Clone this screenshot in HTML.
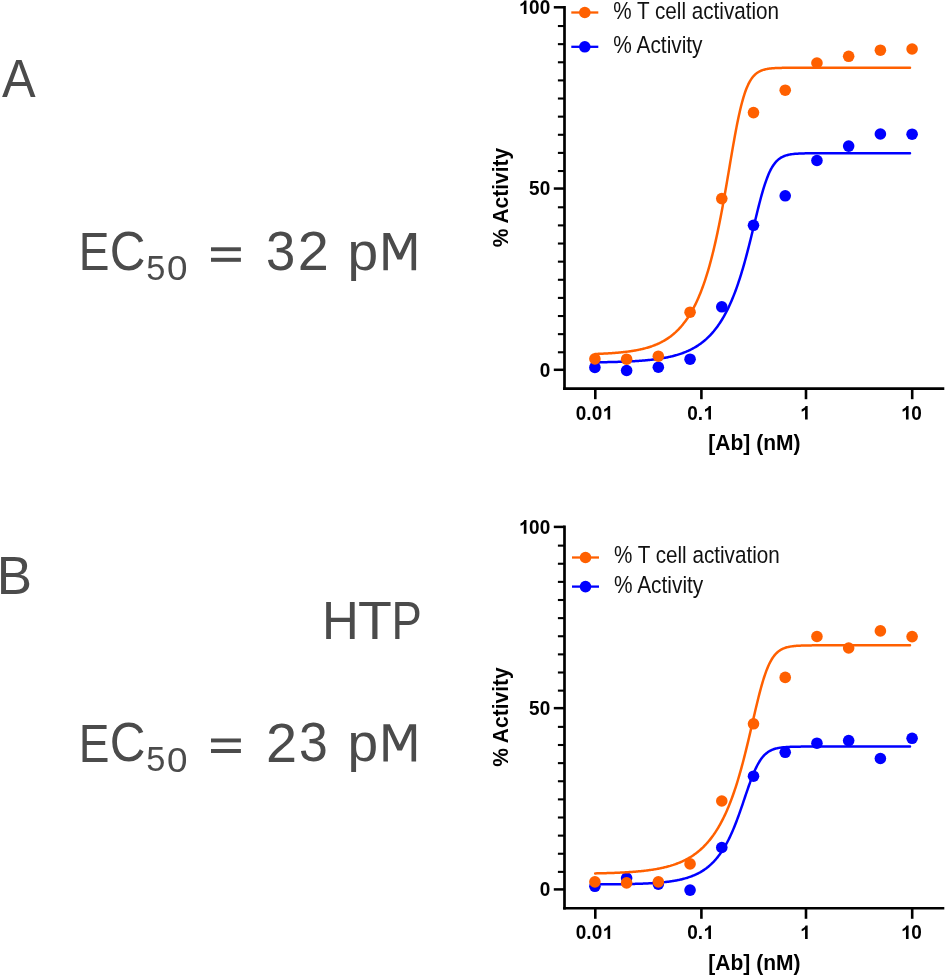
<!DOCTYPE html>
<html><head><meta charset="utf-8"><style>
html,body{margin:0;padding:0;background:#fff;}
body{width:945px;height:976px;overflow:hidden;}
svg{display:block;will-change:transform;}
text{font-family:"Liberation Sans",sans-serif;}
.tk{font-size:19px;font-weight:bold;fill:#000;}
.tt{font-size:21px;font-weight:bold;fill:#000;}
.lg{font-size:21px;fill:#111;}
.lt{fill:#4b4b4b;}
</style></head><body>
<svg width="945" height="976" viewBox="0 0 945 976">
<rect width="945" height="976" fill="#fff"/>
<text transform="translate(2.07,97.00) scale(0.9695,1.0406)" font-size="52" class="lt">A</text>
<text transform="translate(-3.37,593.80) scale(1.0184,1.0378)" font-size="52" class="lt">B</text>
<text transform="translate(322.10,639.30) scale(0.9796,1.0406)" font-size="52" class="lt">H</text>
<text transform="translate(358.05,639.30) scale(1.0654,1.0406)" font-size="52" class="lt">T</text>
<text transform="translate(391.55,639.30) scale(0.8740,1.0406)" font-size="52" class="lt">P</text>
<text transform="translate(78.80,270.30) scale(0.8862,1.0434)" font-size="52" class="lt">E</text>
<text transform="translate(109.83,270.14) scale(0.9517,1.0709)" font-size="52" class="lt">C</text>
<text transform="translate(146.23,280.24) scale(0.6599,0.6838)" font-size="52" class="lt">5</text>
<text transform="translate(166.93,280.45) scale(0.7088,0.6795)" font-size="52" class="lt">0</text>
<rect x="211" y="247.30" width="29.9" height="3.9" fill="#4b4b4b"/><rect x="211" y="257.80" width="29.9" height="4.0" fill="#4b4b4b"/>
<text transform="translate(347.52,269.81) scale(1.0598,1.0274)" font-size="52" class="lt">p</text>
<path transform="translate(0,0)" fill="#4b4b4b" d="M383.4,270.3 L383.4,233.0 L389.9,233.0 L399.7,253.6 L409.4,233.0 L416.1,233.0 L416.1,270.3 L411.5,270.3 L411.5,238.6 L401.9,259.4 L397.4,259.4 L387.9,238.6 L387.9,270.3 Z"/>
<text transform="translate(78.80,761.50) scale(0.8862,1.0434)" font-size="52" class="lt">E</text>
<text transform="translate(109.83,761.34) scale(0.9517,1.0709)" font-size="52" class="lt">C</text>
<text transform="translate(146.23,771.44) scale(0.6599,0.6838)" font-size="52" class="lt">5</text>
<text transform="translate(166.93,771.65) scale(0.7088,0.6795)" font-size="52" class="lt">0</text>
<rect x="211" y="738.50" width="29.9" height="3.9" fill="#4b4b4b"/><rect x="211" y="749.00" width="29.9" height="4.0" fill="#4b4b4b"/>
<text transform="translate(347.52,761.01) scale(1.0598,1.0274)" font-size="52" class="lt">p</text>
<path transform="translate(0,491.2)" fill="#4b4b4b" d="M383.4,270.3 L383.4,233.0 L389.9,233.0 L399.7,253.6 L409.4,233.0 L416.1,233.0 L416.1,270.3 L411.5,270.3 L411.5,238.6 L401.9,259.4 L397.4,259.4 L387.9,238.6 L387.9,270.3 Z"/>
<text transform="translate(265.93,270.04) scale(1.0121,1.0682)" font-size="52" class="lt">3</text>
<text transform="translate(297.71,270.20) scale(1.0735,1.0725)" font-size="52" class="lt">2</text>
<text transform="translate(265.91,761.60) scale(1.0735,1.0615)" font-size="52" class="lt">2</text>
<text transform="translate(298.96,761.35) scale(0.9960,1.0546)" font-size="52" class="lt">3</text>
<path d="M564.5,6 V389.90000000000003" stroke="#000" stroke-width="2.7" fill="none"/>
<path d="M563.15,388.6 H944.3" stroke="#000" stroke-width="2.6" fill="none"/>
<path d="M553.8,369.80 H564.5" stroke="#000" stroke-width="2.5"/>
<path d="M557.9,352.28 H564.5" stroke="#000" stroke-width="2.1"/>
<path d="M557.9,334.15 H564.5" stroke="#000" stroke-width="2.1"/>
<path d="M557.9,316.03 H564.5" stroke="#000" stroke-width="2.1"/>
<path d="M557.9,297.90 H564.5" stroke="#000" stroke-width="2.1"/>
<path d="M557.9,279.78 H564.5" stroke="#000" stroke-width="2.1"/>
<path d="M557.9,261.65 H564.5" stroke="#000" stroke-width="2.1"/>
<path d="M557.9,243.53 H564.5" stroke="#000" stroke-width="2.1"/>
<path d="M557.9,225.40 H564.5" stroke="#000" stroke-width="2.1"/>
<path d="M557.9,207.28 H564.5" stroke="#000" stroke-width="2.1"/>
<path d="M553.8,188.55 H564.5" stroke="#000" stroke-width="2.5"/>
<path d="M557.9,171.03 H564.5" stroke="#000" stroke-width="2.1"/>
<path d="M557.9,152.90 H564.5" stroke="#000" stroke-width="2.1"/>
<path d="M557.9,134.78 H564.5" stroke="#000" stroke-width="2.1"/>
<path d="M557.9,116.65 H564.5" stroke="#000" stroke-width="2.1"/>
<path d="M557.9,98.53 H564.5" stroke="#000" stroke-width="2.1"/>
<path d="M557.9,80.40 H564.5" stroke="#000" stroke-width="2.1"/>
<path d="M557.9,62.28 H564.5" stroke="#000" stroke-width="2.1"/>
<path d="M557.9,44.15 H564.5" stroke="#000" stroke-width="2.1"/>
<path d="M557.9,26.03 H564.5" stroke="#000" stroke-width="2.1"/>
<path d="M553.8,7.30 H564.5" stroke="#000" stroke-width="2.5"/>
<text transform="translate(539.63,376.55) scale(1,1.03)" class="tk">0</text>
<text transform="translate(529.07,195.30) scale(1,1.03)" class="tk">50</text>
<path transform="translate(518.50,14.05) scale(0.009277,-0.009221)" d="M856 0H575V1059Q421 915 212 846V1101Q322 1137 451 1237Q580 1338 628 1472H856Z" fill="#000"/>
<text transform="translate(529.07,14.05) scale(1,1.03)" class="tk">00</text>
<path d="M595.3,388.6 V399.2" stroke="#000" stroke-width="2.6"/>
<text transform="translate(575.81,419.50) scale(1,1.03)" class="tk">0.0</text>
<path transform="translate(602.22,419.50) scale(0.009277,-0.009221)" d="M856 0H575V1059Q421 915 212 846V1101Q322 1137 451 1237Q580 1338 628 1472H856Z" fill="#000"/>
<path d="M701.4,388.6 V399.2" stroke="#000" stroke-width="2.6"/>
<text transform="translate(687.19,419.50) scale(1,1.03)" class="tk">0.</text>
<path transform="translate(703.04,419.50) scale(0.009277,-0.009221)" d="M856 0H575V1059Q421 915 212 846V1101Q322 1137 451 1237Q580 1338 628 1472H856Z" fill="#000"/>
<path d="M806,388.6 V399.2" stroke="#000" stroke-width="2.6"/>
<path transform="translate(799.72,419.50) scale(0.009277,-0.009221)" d="M856 0H575V1059Q421 915 212 846V1101Q322 1137 451 1237Q580 1338 628 1472H856Z" fill="#000"/>
<path d="M912.2,388.6 V399.2" stroke="#000" stroke-width="2.6"/>
<path transform="translate(900.63,419.50) scale(0.009277,-0.009221)" d="M856 0H575V1059Q421 915 212 846V1101Q322 1137 451 1237Q580 1338 628 1472H856Z" fill="#000"/>
<text transform="translate(911.20,419.50) scale(1,1.03)" class="tk">0</text>
<text transform="translate(754.4,450.30) scale(1,1.08)" text-anchor="middle" class="tt">[Ab] (nM)</text>
<text transform="translate(507.9,197.50) rotate(-90) scale(1,1.08)" text-anchor="middle" class="tt">% Activity</text>
<path d="M571.30,46.8 H598.30" stroke="#0000FF" stroke-width="2.3"/>
<circle cx="584.80" cy="46.8" r="5.8" fill="#0000FF"/>
<path d="M571.30,12.5 H598.30" stroke="#FF6000" stroke-width="2.3"/>
<circle cx="584.80" cy="12.5" r="5.8" fill="#FF6000"/>
<text transform="translate(613.30,18.6) scale(0.984,1.1)" class="lg">% T cell activation</text>
<text transform="translate(613.30,52.9) scale(0.994,1.1)" class="lg">% Activity</text>
<path d="M595.20,362.33 L595.99,362.32 L596.78,362.31 L597.57,362.30 L598.36,362.29 L599.14,362.28 L599.93,362.26 L600.72,362.25 L601.51,362.24 L602.30,362.23 L603.09,362.21 L603.88,362.20 L604.67,362.18 L605.46,362.17 L606.25,362.15 L607.03,362.14 L607.82,362.12 L608.61,362.10 L609.40,362.09 L610.19,362.07 L610.98,362.05 L611.77,362.03 L612.56,362.01 L613.35,361.99 L614.14,361.97 L614.92,361.95 L615.71,361.93 L616.50,361.90 L617.29,361.88 L618.08,361.86 L618.87,361.83 L619.66,361.81 L620.45,361.78 L621.24,361.75 L622.03,361.72 L622.81,361.70 L623.60,361.67 L624.39,361.64 L625.18,361.60 L625.97,361.57 L626.76,361.54 L627.55,361.50 L628.34,361.47 L629.13,361.43 L629.91,361.39 L630.70,361.35 L631.49,361.31 L632.28,361.27 L633.07,361.23 L633.86,361.18 L634.65,361.14 L635.44,361.09 L636.23,361.04 L637.02,360.99 L637.80,360.94 L638.59,360.89 L639.38,360.83 L640.17,360.78 L640.96,360.72 L641.75,360.66 L642.54,360.60 L643.33,360.54 L644.12,360.47 L644.91,360.40 L645.69,360.33 L646.48,360.26 L647.27,360.19 L648.06,360.11 L648.85,360.03 L649.64,359.95 L650.43,359.87 L651.22,359.78 L652.01,359.70 L652.79,359.61 L653.58,359.51 L654.37,359.41 L655.16,359.32 L655.95,359.21 L656.74,359.11 L657.53,359.00 L658.32,358.89 L659.11,358.77 L659.90,358.65 L660.68,358.53 L661.47,358.40 L662.26,358.27 L663.05,358.14 L663.84,358.00 L664.63,357.85 L665.42,357.71 L666.21,357.55 L667.00,357.40 L667.79,357.24 L668.57,357.07 L669.36,356.90 L670.15,356.72 L670.94,356.54 L671.73,356.35 L672.52,356.16 L673.31,355.96 L674.10,355.75 L674.89,355.54 L675.68,355.32 L676.46,355.10 L677.25,354.87 L678.04,354.63 L678.83,354.38 L679.62,354.13 L680.41,353.87 L681.20,353.60 L681.99,353.32 L682.78,353.04 L683.56,352.74 L684.35,352.44 L685.14,352.12 L685.93,351.80 L686.72,351.47 L687.51,351.13 L688.30,350.77 L689.09,350.41 L689.88,350.03 L690.67,349.65 L691.45,349.25 L692.24,348.84 L693.03,348.41 L693.82,347.98 L694.61,347.53 L695.40,347.07 L696.19,346.59 L696.98,346.10 L697.77,345.59 L698.56,345.07 L699.34,344.53 L700.13,343.97 L700.92,343.40 L701.71,342.81 L702.50,342.20 L703.29,341.58 L704.08,340.93 L704.87,340.27 L705.66,339.58 L706.45,338.88 L707.23,338.15 L708.02,337.40 L708.81,336.63 L709.60,335.83 L710.39,335.01 L711.18,334.16 L711.97,333.29 L712.76,332.39 L713.55,331.47 L714.33,330.51 L715.12,329.53 L715.91,328.52 L716.70,327.47 L717.49,326.40 L718.28,325.29 L719.07,324.15 L719.86,322.97 L720.65,321.76 L721.44,320.51 L722.22,319.23 L723.01,317.90 L723.80,316.54 L724.59,315.13 L725.38,313.68 L726.17,312.19 L726.96,310.66 L727.75,309.08 L728.54,307.45 L729.33,305.77 L730.11,304.04 L730.90,302.27 L731.69,300.44 L732.48,298.56 L733.27,296.62 L734.06,294.63 L734.85,292.59 L735.64,290.48 L736.43,288.32 L737.22,286.10 L738.00,283.82 L738.79,281.47 L739.58,279.07 L740.37,276.60 L741.16,274.07 L741.95,271.48 L742.74,268.83 L743.53,266.12 L744.32,263.34 L745.10,260.51 L745.89,257.62 L746.68,254.67 L747.47,251.67 L748.26,248.62 L749.05,245.52 L749.84,242.38 L750.63,239.21 L751.42,236.00 L752.21,232.76 L752.99,229.51 L753.78,226.24 L754.57,222.97 L755.36,219.71 L756.15,216.45 L756.94,213.23 L757.73,210.03 L758.52,206.88 L759.31,203.79 L760.10,200.75 L760.88,197.79 L761.67,194.92 L762.46,192.13 L763.25,189.45 L764.04,186.86 L764.83,184.39 L765.62,182.04 L766.41,179.80 L767.20,177.69 L767.98,175.69 L768.77,173.82 L769.56,172.07 L770.35,170.43 L771.14,168.91 L771.93,167.51 L772.72,166.20 L773.51,165.00 L774.30,163.90 L775.09,162.89 L775.87,161.96 L776.66,161.12 L777.45,160.35 L778.24,159.65 L779.03,159.01 L779.82,158.43 L780.61,157.91 L781.40,157.44 L782.19,157.01 L782.98,156.62 L783.76,156.27 L784.55,155.96 L785.34,155.68 L786.13,155.42 L786.92,155.19 L787.71,154.99 L788.50,154.80 L789.29,154.64 L790.08,154.49 L790.87,154.35 L791.65,154.23 L792.44,154.13 L793.23,154.03 L794.02,153.94 L794.81,153.87 L795.60,153.80 L796.39,153.73 L797.18,153.68 L797.97,153.63 L798.75,153.58 L799.54,153.54 L800.33,153.51 L801.12,153.48 L801.91,153.45 L802.70,153.42 L803.49,153.40 L804.28,153.38 L805.07,153.36 L805.86,153.34 L806.64,153.33 L807.43,153.31 L808.22,153.30 L809.01,153.29 L809.80,153.28 L810.59,153.27 L811.38,153.27 L812.17,153.26 L812.96,153.25 L813.75,153.25 L814.53,153.24 L815.32,153.24 L816.11,153.24 L816.90,153.23 L817.69,153.23 L818.48,153.23 L819.27,153.22 L820.06,153.22 L820.85,153.22 L821.64,153.22 L822.42,153.22 L823.21,153.21 L824.00,153.21 L824.79,153.21 L825.58,153.21 L826.37,153.21 L827.16,153.21 L827.95,153.21 L828.74,153.21 L829.52,153.21 L830.31,153.21 L831.10,153.21 L831.89,153.21 L832.68,153.21 L833.47,153.21 L834.26,153.21 L835.05,153.21 L835.84,153.20 L836.63,153.20 L837.41,153.20 L838.20,153.20 L838.99,153.20 L839.78,153.20 L840.57,153.20 L841.36,153.20 L842.15,153.20 L842.94,153.20 L843.73,153.20 L844.52,153.20 L845.30,153.20 L846.09,153.20 L846.88,153.20 L847.67,153.20 L848.46,153.20 L849.25,153.20 L850.04,153.20 L850.83,153.20 L851.62,153.20 L852.41,153.20 L853.19,153.20 L853.98,153.20 L854.77,153.20 L855.56,153.20 L856.35,153.20 L857.14,153.20 L857.93,153.20 L858.72,153.20 L859.51,153.20 L860.29,153.20 L861.08,153.20 L861.87,153.20 L862.66,153.20 L863.45,153.20 L864.24,153.20 L865.03,153.20 L865.82,153.20 L866.61,153.20 L867.40,153.20 L868.18,153.20 L868.97,153.20 L869.76,153.20 L870.55,153.20 L871.34,153.20 L872.13,153.20 L872.92,153.20 L873.71,153.20 L874.50,153.20 L875.29,153.20 L876.07,153.20 L876.86,153.20 L877.65,153.20 L878.44,153.20 L879.23,153.20 L880.02,153.20 L880.81,153.20 L881.60,153.20 L882.39,153.20 L883.17,153.20 L883.96,153.20 L884.75,153.20 L885.54,153.20 L886.33,153.20 L887.12,153.20 L887.91,153.20 L888.70,153.20 L889.49,153.20 L890.28,153.20 L891.06,153.20 L891.85,153.20 L892.64,153.20 L893.43,153.20 L894.22,153.20 L895.01,153.20 L895.80,153.20 L896.59,153.20 L897.38,153.20 L898.17,153.20 L898.95,153.20 L899.74,153.20 L900.53,153.20 L901.32,153.20 L902.11,153.20 L902.90,153.20 L903.69,153.20 L904.48,153.20 L905.27,153.20 L906.06,153.20 L906.84,153.20 L907.63,153.20 L908.42,153.20 L909.21,153.20 L910.00,153.20" stroke="#0000FF" stroke-width="2.5" fill="none" stroke-linejoin="round" stroke-linecap="round"/>
<circle cx="594.90" cy="367.4" r="5.8" fill="#0000FF"/>
<circle cx="626.62" cy="370.5" r="5.8" fill="#0000FF"/>
<circle cx="658.34" cy="367.2" r="5.8" fill="#0000FF"/>
<circle cx="690.06" cy="359.2" r="5.8" fill="#0000FF"/>
<circle cx="721.78" cy="306.8" r="5.8" fill="#0000FF"/>
<circle cx="753.50" cy="225.3" r="5.8" fill="#0000FF"/>
<circle cx="785.22" cy="195.8" r="5.8" fill="#0000FF"/>
<circle cx="816.94" cy="160.5" r="5.8" fill="#0000FF"/>
<circle cx="848.66" cy="146.1" r="5.8" fill="#0000FF"/>
<circle cx="880.38" cy="134.0" r="5.8" fill="#0000FF"/>
<circle cx="912.10" cy="134.2" r="5.8" fill="#0000FF"/>
<path d="M595.20,353.97 L595.99,353.94 L596.78,353.91 L597.57,353.88 L598.36,353.85 L599.14,353.82 L599.93,353.78 L600.72,353.75 L601.51,353.71 L602.30,353.68 L603.09,353.64 L603.88,353.60 L604.67,353.56 L605.46,353.52 L606.25,353.48 L607.03,353.43 L607.82,353.39 L608.61,353.34 L609.40,353.29 L610.19,353.24 L610.98,353.19 L611.77,353.14 L612.56,353.08 L613.35,353.03 L614.14,352.97 L614.92,352.91 L615.71,352.85 L616.50,352.78 L617.29,352.71 L618.08,352.64 L618.87,352.57 L619.66,352.50 L620.45,352.42 L621.24,352.35 L622.03,352.27 L622.81,352.18 L623.60,352.10 L624.39,352.01 L625.18,351.92 L625.97,351.82 L626.76,351.72 L627.55,351.62 L628.34,351.52 L629.13,351.41 L629.91,351.30 L630.70,351.18 L631.49,351.06 L632.28,350.94 L633.07,350.81 L633.86,350.68 L634.65,350.55 L635.44,350.41 L636.23,350.27 L637.02,350.12 L637.80,349.96 L638.59,349.81 L639.38,349.64 L640.17,349.47 L640.96,349.30 L641.75,349.12 L642.54,348.93 L643.33,348.74 L644.12,348.54 L644.91,348.34 L645.69,348.13 L646.48,347.91 L647.27,347.68 L648.06,347.45 L648.85,347.21 L649.64,346.96 L650.43,346.70 L651.22,346.44 L652.01,346.17 L652.79,345.88 L653.58,345.59 L654.37,345.29 L655.16,344.98 L655.95,344.66 L656.74,344.33 L657.53,343.99 L658.32,343.63 L659.11,343.27 L659.90,342.89 L660.68,342.50 L661.47,342.10 L662.26,341.69 L663.05,341.26 L663.84,340.82 L664.63,340.36 L665.42,339.89 L666.21,339.40 L667.00,338.90 L667.79,338.38 L668.57,337.85 L669.36,337.29 L670.15,336.72 L670.94,336.13 L671.73,335.52 L672.52,334.89 L673.31,334.24 L674.10,333.57 L674.89,332.88 L675.68,332.17 L676.46,331.43 L677.25,330.67 L678.04,329.88 L678.83,329.07 L679.62,328.23 L680.41,327.36 L681.20,326.46 L681.99,325.54 L682.78,324.59 L683.56,323.60 L684.35,322.59 L685.14,321.54 L685.93,320.45 L686.72,319.33 L687.51,318.18 L688.30,316.98 L689.09,315.75 L689.88,314.48 L690.67,313.17 L691.45,311.81 L692.24,310.41 L693.03,308.96 L693.82,307.47 L694.61,305.93 L695.40,304.34 L696.19,302.70 L696.98,301.01 L697.77,299.26 L698.56,297.46 L699.34,295.59 L700.13,293.67 L700.92,291.69 L701.71,289.64 L702.50,287.53 L703.29,285.35 L704.08,283.10 L704.87,280.79 L705.66,278.39 L706.45,275.93 L707.23,273.39 L708.02,270.77 L708.81,268.07 L709.60,265.29 L710.39,262.42 L711.18,259.47 L711.97,256.43 L712.76,253.30 L713.55,250.09 L714.33,246.78 L715.12,243.38 L715.91,239.89 L716.70,236.30 L717.49,232.62 L718.28,228.85 L719.07,224.99 L719.86,221.03 L720.65,216.99 L721.44,212.86 L722.22,208.65 L723.01,204.36 L723.80,199.99 L724.59,195.56 L725.38,191.06 L726.17,186.51 L726.96,181.91 L727.75,177.28 L728.54,172.63 L729.33,167.96 L730.11,163.28 L730.90,158.63 L731.69,154.00 L732.48,149.41 L733.27,144.88 L734.06,140.42 L734.85,136.05 L735.64,131.78 L736.43,127.62 L737.22,123.60 L738.00,119.71 L738.79,115.98 L739.58,112.41 L740.37,109.00 L741.16,105.77 L741.95,102.71 L742.74,99.83 L743.53,97.12 L744.32,94.59 L745.10,92.23 L745.89,90.04 L746.68,88.02 L747.47,86.15 L748.26,84.42 L749.05,82.84 L749.84,81.39 L750.63,80.07 L751.42,78.86 L752.21,77.76 L752.99,76.76 L753.78,75.85 L754.57,75.03 L755.36,74.29 L756.15,73.62 L756.94,73.01 L757.73,72.47 L758.52,71.98 L759.31,71.53 L760.10,71.14 L760.88,70.78 L761.67,70.46 L762.46,70.17 L763.25,69.91 L764.04,69.68 L764.83,69.47 L765.62,69.29 L766.41,69.12 L767.20,68.97 L767.98,68.84 L768.77,68.72 L769.56,68.61 L770.35,68.52 L771.14,68.43 L771.93,68.35 L772.72,68.29 L773.51,68.22 L774.30,68.17 L775.09,68.12 L775.87,68.08 L776.66,68.04 L777.45,68.00 L778.24,67.97 L779.03,67.94 L779.82,67.92 L780.61,67.90 L781.40,67.88 L782.19,67.86 L782.98,67.84 L783.76,67.83 L784.55,67.82 L785.34,67.81 L786.13,67.80 L786.92,67.79 L787.71,67.78 L788.50,67.77 L789.29,67.76 L790.08,67.76 L790.87,67.75 L791.65,67.75 L792.44,67.75 L793.23,67.74 L794.02,67.74 L794.81,67.74 L795.60,67.73 L796.39,67.73 L797.18,67.73 L797.97,67.73 L798.75,67.72 L799.54,67.72 L800.33,67.72 L801.12,67.72 L801.91,67.72 L802.70,67.72 L803.49,67.72 L804.28,67.72 L805.07,67.72 L805.86,67.72 L806.64,67.72 L807.43,67.71 L808.22,67.71 L809.01,67.71 L809.80,67.71 L810.59,67.71 L811.38,67.71 L812.17,67.71 L812.96,67.71 L813.75,67.71 L814.53,67.71 L815.32,67.71 L816.11,67.71 L816.90,67.71 L817.69,67.71 L818.48,67.71 L819.27,67.71 L820.06,67.71 L820.85,67.71 L821.64,67.71 L822.42,67.71 L823.21,67.71 L824.00,67.71 L824.79,67.71 L825.58,67.71 L826.37,67.71 L827.16,67.71 L827.95,67.71 L828.74,67.71 L829.52,67.71 L830.31,67.71 L831.10,67.71 L831.89,67.71 L832.68,67.71 L833.47,67.71 L834.26,67.71 L835.05,67.71 L835.84,67.71 L836.63,67.71 L837.41,67.71 L838.20,67.71 L838.99,67.71 L839.78,67.71 L840.57,67.71 L841.36,67.71 L842.15,67.71 L842.94,67.71 L843.73,67.71 L844.52,67.71 L845.30,67.71 L846.09,67.71 L846.88,67.71 L847.67,67.71 L848.46,67.71 L849.25,67.71 L850.04,67.71 L850.83,67.71 L851.62,67.71 L852.41,67.71 L853.19,67.71 L853.98,67.71 L854.77,67.71 L855.56,67.71 L856.35,67.71 L857.14,67.71 L857.93,67.71 L858.72,67.71 L859.51,67.71 L860.29,67.71 L861.08,67.71 L861.87,67.71 L862.66,67.71 L863.45,67.71 L864.24,67.71 L865.03,67.71 L865.82,67.71 L866.61,67.71 L867.40,67.71 L868.18,67.71 L868.97,67.71 L869.76,67.71 L870.55,67.71 L871.34,67.71 L872.13,67.71 L872.92,67.71 L873.71,67.71 L874.50,67.71 L875.29,67.71 L876.07,67.71 L876.86,67.71 L877.65,67.71 L878.44,67.71 L879.23,67.71 L880.02,67.71 L880.81,67.71 L881.60,67.71 L882.39,67.71 L883.17,67.71 L883.96,67.71 L884.75,67.71 L885.54,67.71 L886.33,67.71 L887.12,67.71 L887.91,67.71 L888.70,67.71 L889.49,67.71 L890.28,67.71 L891.06,67.71 L891.85,67.71 L892.64,67.71 L893.43,67.71 L894.22,67.71 L895.01,67.71 L895.80,67.71 L896.59,67.71 L897.38,67.71 L898.17,67.71 L898.95,67.71 L899.74,67.71 L900.53,67.71 L901.32,67.71 L902.11,67.71 L902.90,67.71 L903.69,67.71 L904.48,67.71 L905.27,67.71 L906.06,67.71 L906.84,67.71 L907.63,67.71 L908.42,67.71 L909.21,67.71 L910.00,67.71" stroke="#FF6000" stroke-width="2.5" fill="none" stroke-linejoin="round" stroke-linecap="round"/>
<circle cx="594.90" cy="358.9" r="5.8" fill="#FF6000"/>
<circle cx="626.62" cy="359.2" r="5.8" fill="#FF6000"/>
<circle cx="658.34" cy="356.2" r="5.8" fill="#FF6000"/>
<circle cx="690.06" cy="312.2" r="5.8" fill="#FF6000"/>
<circle cx="721.78" cy="198.6" r="5.8" fill="#FF6000"/>
<circle cx="753.50" cy="112.6" r="5.8" fill="#FF6000"/>
<circle cx="785.22" cy="90.2" r="5.8" fill="#FF6000"/>
<circle cx="816.94" cy="63.0" r="5.8" fill="#FF6000"/>
<circle cx="848.66" cy="56.3" r="5.8" fill="#FF6000"/>
<circle cx="880.38" cy="50.2" r="5.8" fill="#FF6000"/>
<circle cx="912.10" cy="49.0" r="5.8" fill="#FF6000"/>
<path d="M564.5,525.6 V909.5" stroke="#000" stroke-width="2.7" fill="none"/>
<path d="M563.15,908.2 H944.3" stroke="#000" stroke-width="2.6" fill="none"/>
<path d="M553.8,889.40 H564.5" stroke="#000" stroke-width="2.5"/>
<path d="M557.9,871.88 H564.5" stroke="#000" stroke-width="2.1"/>
<path d="M557.9,853.75 H564.5" stroke="#000" stroke-width="2.1"/>
<path d="M557.9,835.63 H564.5" stroke="#000" stroke-width="2.1"/>
<path d="M557.9,817.50 H564.5" stroke="#000" stroke-width="2.1"/>
<path d="M557.9,799.38 H564.5" stroke="#000" stroke-width="2.1"/>
<path d="M557.9,781.25 H564.5" stroke="#000" stroke-width="2.1"/>
<path d="M557.9,763.13 H564.5" stroke="#000" stroke-width="2.1"/>
<path d="M557.9,745.00 H564.5" stroke="#000" stroke-width="2.1"/>
<path d="M557.9,726.88 H564.5" stroke="#000" stroke-width="2.1"/>
<path d="M553.8,708.15 H564.5" stroke="#000" stroke-width="2.5"/>
<path d="M557.9,690.63 H564.5" stroke="#000" stroke-width="2.1"/>
<path d="M557.9,672.50 H564.5" stroke="#000" stroke-width="2.1"/>
<path d="M557.9,654.38 H564.5" stroke="#000" stroke-width="2.1"/>
<path d="M557.9,636.25 H564.5" stroke="#000" stroke-width="2.1"/>
<path d="M557.9,618.13 H564.5" stroke="#000" stroke-width="2.1"/>
<path d="M557.9,600.00 H564.5" stroke="#000" stroke-width="2.1"/>
<path d="M557.9,581.88 H564.5" stroke="#000" stroke-width="2.1"/>
<path d="M557.9,563.75 H564.5" stroke="#000" stroke-width="2.1"/>
<path d="M557.9,545.63 H564.5" stroke="#000" stroke-width="2.1"/>
<path d="M553.8,526.90 H564.5" stroke="#000" stroke-width="2.5"/>
<text transform="translate(539.63,896.15) scale(1,1.03)" class="tk">0</text>
<text transform="translate(529.07,714.90) scale(1,1.03)" class="tk">50</text>
<path transform="translate(518.50,533.65) scale(0.009277,-0.009221)" d="M856 0H575V1059Q421 915 212 846V1101Q322 1137 451 1237Q580 1338 628 1472H856Z" fill="#000"/>
<text transform="translate(529.07,533.65) scale(1,1.03)" class="tk">00</text>
<path d="M595.3,908.2 V918.8" stroke="#000" stroke-width="2.6"/>
<text transform="translate(575.81,939.10) scale(1,1.03)" class="tk">0.0</text>
<path transform="translate(602.22,939.10) scale(0.009277,-0.009221)" d="M856 0H575V1059Q421 915 212 846V1101Q322 1137 451 1237Q580 1338 628 1472H856Z" fill="#000"/>
<path d="M701.4,908.2 V918.8" stroke="#000" stroke-width="2.6"/>
<text transform="translate(687.19,939.10) scale(1,1.03)" class="tk">0.</text>
<path transform="translate(703.04,939.10) scale(0.009277,-0.009221)" d="M856 0H575V1059Q421 915 212 846V1101Q322 1137 451 1237Q580 1338 628 1472H856Z" fill="#000"/>
<path d="M806,908.2 V918.8" stroke="#000" stroke-width="2.6"/>
<path transform="translate(799.72,939.10) scale(0.009277,-0.009221)" d="M856 0H575V1059Q421 915 212 846V1101Q322 1137 451 1237Q580 1338 628 1472H856Z" fill="#000"/>
<path d="M912.2,908.2 V918.8" stroke="#000" stroke-width="2.6"/>
<path transform="translate(900.63,939.10) scale(0.009277,-0.009221)" d="M856 0H575V1059Q421 915 212 846V1101Q322 1137 451 1237Q580 1338 628 1472H856Z" fill="#000"/>
<text transform="translate(911.20,939.10) scale(1,1.03)" class="tk">0</text>
<text transform="translate(754.4,969.90) scale(1,1.08)" text-anchor="middle" class="tt">[Ab] (nM)</text>
<text transform="translate(507.9,717.10) rotate(-90) scale(1,1.08)" text-anchor="middle" class="tt">% Activity</text>
<path d="M572.00,586.6 H599.00" stroke="#0000FF" stroke-width="2.3"/>
<circle cx="585.50" cy="586.6" r="5.8" fill="#0000FF"/>
<path d="M572.00,557.5 H599.00" stroke="#FF6000" stroke-width="2.3"/>
<circle cx="585.50" cy="557.5" r="5.8" fill="#FF6000"/>
<text transform="translate(614.00,563.2) scale(0.984,1.1)" class="lg">% T cell activation</text>
<text transform="translate(614.00,592.5) scale(0.994,1.1)" class="lg">% Activity</text>
<path d="M595.20,884.39 L595.99,884.38 L596.78,884.38 L597.57,884.38 L598.36,884.37 L599.14,884.37 L599.93,884.36 L600.72,884.36 L601.51,884.36 L602.30,884.35 L603.09,884.35 L603.88,884.34 L604.67,884.34 L605.46,884.33 L606.25,884.32 L607.03,884.32 L607.82,884.31 L608.61,884.31 L609.40,884.30 L610.19,884.29 L610.98,884.29 L611.77,884.28 L612.56,884.27 L613.35,884.26 L614.14,884.25 L614.92,884.25 L615.71,884.24 L616.50,884.23 L617.29,884.22 L618.08,884.21 L618.87,884.20 L619.66,884.19 L620.45,884.18 L621.24,884.17 L622.03,884.15 L622.81,884.14 L623.60,884.13 L624.39,884.12 L625.18,884.10 L625.97,884.09 L626.76,884.07 L627.55,884.06 L628.34,884.04 L629.13,884.03 L629.91,884.01 L630.70,883.99 L631.49,883.97 L632.28,883.96 L633.07,883.94 L633.86,883.92 L634.65,883.89 L635.44,883.87 L636.23,883.85 L637.02,883.83 L637.80,883.80 L638.59,883.78 L639.38,883.75 L640.17,883.72 L640.96,883.69 L641.75,883.66 L642.54,883.63 L643.33,883.60 L644.12,883.57 L644.91,883.54 L645.69,883.50 L646.48,883.46 L647.27,883.43 L648.06,883.39 L648.85,883.35 L649.64,883.30 L650.43,883.26 L651.22,883.22 L652.01,883.17 L652.79,883.12 L653.58,883.07 L654.37,883.02 L655.16,882.96 L655.95,882.90 L656.74,882.85 L657.53,882.79 L658.32,882.72 L659.11,882.66 L659.90,882.59 L660.68,882.52 L661.47,882.45 L662.26,882.37 L663.05,882.29 L663.84,882.21 L664.63,882.13 L665.42,882.04 L666.21,881.95 L667.00,881.85 L667.79,881.75 L668.57,881.65 L669.36,881.55 L670.15,881.44 L670.94,881.33 L671.73,881.21 L672.52,881.09 L673.31,880.96 L674.10,880.83 L674.89,880.69 L675.68,880.55 L676.46,880.41 L677.25,880.25 L678.04,880.10 L678.83,879.93 L679.62,879.77 L680.41,879.59 L681.20,879.41 L681.99,879.22 L682.78,879.02 L683.56,878.82 L684.35,878.61 L685.14,878.39 L685.93,878.16 L686.72,877.93 L687.51,877.69 L688.30,877.43 L689.09,877.17 L689.88,876.90 L690.67,876.62 L691.45,876.33 L692.24,876.02 L693.03,875.71 L693.82,875.38 L694.61,875.04 L695.40,874.69 L696.19,874.33 L696.98,873.95 L697.77,873.56 L698.56,873.15 L699.34,872.73 L700.13,872.30 L700.92,871.84 L701.71,871.37 L702.50,870.89 L703.29,870.38 L704.08,869.86 L704.87,869.32 L705.66,868.75 L706.45,868.17 L707.23,867.56 L708.02,866.94 L708.81,866.28 L709.60,865.61 L710.39,864.91 L711.18,864.19 L711.97,863.43 L712.76,862.65 L713.55,861.85 L714.33,861.01 L715.12,860.14 L715.91,859.24 L716.70,858.31 L717.49,857.35 L718.28,856.35 L719.07,855.31 L719.86,854.24 L720.65,853.13 L721.44,851.98 L722.22,850.79 L723.01,849.56 L723.80,848.29 L724.59,846.97 L725.38,845.61 L726.17,844.21 L726.96,842.75 L727.75,841.25 L728.54,839.71 L729.33,838.11 L730.11,836.46 L730.90,834.77 L731.69,833.02 L732.48,831.22 L733.27,829.38 L734.06,827.48 L734.85,825.53 L735.64,823.54 L736.43,821.50 L737.22,819.41 L738.00,817.29 L738.79,815.12 L739.58,812.91 L740.37,810.67 L741.16,808.40 L741.95,806.10 L742.74,803.79 L743.53,801.45 L744.32,799.11 L745.10,796.77 L745.89,794.43 L746.68,792.11 L747.47,789.80 L748.26,787.51 L749.05,785.26 L749.84,783.06 L750.63,780.89 L751.42,778.79 L752.21,776.74 L752.99,774.76 L753.78,772.85 L754.57,771.02 L755.36,769.27 L756.15,767.60 L756.94,766.01 L757.73,764.51 L758.52,763.10 L759.31,761.77 L760.10,760.52 L760.88,759.35 L761.67,758.27 L762.46,757.26 L763.25,756.32 L764.04,755.46 L764.83,754.66 L765.62,753.93 L766.41,753.25 L767.20,752.64 L767.98,752.07 L768.77,751.55 L769.56,751.08 L770.35,750.65 L771.14,750.26 L771.93,749.91 L772.72,749.58 L773.51,749.29 L774.30,749.02 L775.09,748.78 L775.87,748.57 L776.66,748.37 L777.45,748.19 L778.24,748.03 L779.03,747.88 L779.82,747.75 L780.61,747.63 L781.40,747.52 L782.19,747.43 L782.98,747.34 L783.76,747.26 L784.55,747.19 L785.34,747.13 L786.13,747.07 L786.92,747.02 L787.71,746.97 L788.50,746.93 L789.29,746.89 L790.08,746.86 L790.87,746.83 L791.65,746.80 L792.44,746.77 L793.23,746.75 L794.02,746.73 L794.81,746.71 L795.60,746.70 L796.39,746.68 L797.18,746.67 L797.97,746.66 L798.75,746.65 L799.54,746.64 L800.33,746.63 L801.12,746.62 L801.91,746.61 L802.70,746.61 L803.49,746.60 L804.28,746.60 L805.07,746.59 L805.86,746.59 L806.64,746.58 L807.43,746.58 L808.22,746.58 L809.01,746.58 L809.80,746.57 L810.59,746.57 L811.38,746.57 L812.17,746.57 L812.96,746.57 L813.75,746.56 L814.53,746.56 L815.32,746.56 L816.11,746.56 L816.90,746.56 L817.69,746.56 L818.48,746.56 L819.27,746.56 L820.06,746.56 L820.85,746.56 L821.64,746.56 L822.42,746.56 L823.21,746.56 L824.00,746.55 L824.79,746.55 L825.58,746.55 L826.37,746.55 L827.16,746.55 L827.95,746.55 L828.74,746.55 L829.52,746.55 L830.31,746.55 L831.10,746.55 L831.89,746.55 L832.68,746.55 L833.47,746.55 L834.26,746.55 L835.05,746.55 L835.84,746.55 L836.63,746.55 L837.41,746.55 L838.20,746.55 L838.99,746.55 L839.78,746.55 L840.57,746.55 L841.36,746.55 L842.15,746.55 L842.94,746.55 L843.73,746.55 L844.52,746.55 L845.30,746.55 L846.09,746.55 L846.88,746.55 L847.67,746.55 L848.46,746.55 L849.25,746.55 L850.04,746.55 L850.83,746.55 L851.62,746.55 L852.41,746.55 L853.19,746.55 L853.98,746.55 L854.77,746.55 L855.56,746.55 L856.35,746.55 L857.14,746.55 L857.93,746.55 L858.72,746.55 L859.51,746.55 L860.29,746.55 L861.08,746.55 L861.87,746.55 L862.66,746.55 L863.45,746.55 L864.24,746.55 L865.03,746.55 L865.82,746.55 L866.61,746.55 L867.40,746.55 L868.18,746.55 L868.97,746.55 L869.76,746.55 L870.55,746.55 L871.34,746.55 L872.13,746.55 L872.92,746.55 L873.71,746.55 L874.50,746.55 L875.29,746.55 L876.07,746.55 L876.86,746.55 L877.65,746.55 L878.44,746.55 L879.23,746.55 L880.02,746.55 L880.81,746.55 L881.60,746.55 L882.39,746.55 L883.17,746.55 L883.96,746.55 L884.75,746.55 L885.54,746.55 L886.33,746.55 L887.12,746.55 L887.91,746.55 L888.70,746.55 L889.49,746.55 L890.28,746.55 L891.06,746.55 L891.85,746.55 L892.64,746.55 L893.43,746.55 L894.22,746.55 L895.01,746.55 L895.80,746.55 L896.59,746.55 L897.38,746.55 L898.17,746.55 L898.95,746.55 L899.74,746.55 L900.53,746.55 L901.32,746.55 L902.11,746.55 L902.90,746.55 L903.69,746.55 L904.48,746.55 L905.27,746.55 L906.06,746.55 L906.84,746.55 L907.63,746.55 L908.42,746.55 L909.21,746.55 L910.00,746.55" stroke="#0000FF" stroke-width="2.5" fill="none" stroke-linejoin="round" stroke-linecap="round"/>
<circle cx="594.90" cy="886.3" r="5.8" fill="#0000FF"/>
<circle cx="626.62" cy="878.1" r="5.8" fill="#0000FF"/>
<circle cx="658.34" cy="884.1" r="5.8" fill="#0000FF"/>
<circle cx="690.06" cy="890.1" r="5.8" fill="#0000FF"/>
<circle cx="721.78" cy="847.5" r="5.8" fill="#0000FF"/>
<circle cx="753.50" cy="776.2" r="5.8" fill="#0000FF"/>
<circle cx="785.22" cy="752.3" r="5.8" fill="#0000FF"/>
<circle cx="816.94" cy="743.2" r="5.8" fill="#0000FF"/>
<circle cx="848.66" cy="740.6" r="5.8" fill="#0000FF"/>
<circle cx="880.38" cy="758.5" r="5.8" fill="#0000FF"/>
<circle cx="912.10" cy="738.3" r="5.8" fill="#0000FF"/>
<path d="M595.20,873.40 L595.99,873.38 L596.78,873.37 L597.57,873.35 L598.36,873.33 L599.14,873.32 L599.93,873.30 L600.72,873.28 L601.51,873.26 L602.30,873.24 L603.09,873.22 L603.88,873.20 L604.67,873.18 L605.46,873.16 L606.25,873.14 L607.03,873.12 L607.82,873.09 L608.61,873.07 L609.40,873.04 L610.19,873.02 L610.98,872.99 L611.77,872.96 L612.56,872.94 L613.35,872.91 L614.14,872.88 L614.92,872.85 L615.71,872.81 L616.50,872.78 L617.29,872.75 L618.08,872.71 L618.87,872.68 L619.66,872.64 L620.45,872.61 L621.24,872.57 L622.03,872.53 L622.81,872.49 L623.60,872.45 L624.39,872.40 L625.18,872.36 L625.97,872.31 L626.76,872.27 L627.55,872.22 L628.34,872.17 L629.13,872.12 L629.91,872.06 L630.70,872.01 L631.49,871.95 L632.28,871.90 L633.07,871.84 L633.86,871.78 L634.65,871.71 L635.44,871.65 L636.23,871.58 L637.02,871.52 L637.80,871.44 L638.59,871.37 L639.38,871.30 L640.17,871.22 L640.96,871.14 L641.75,871.06 L642.54,870.98 L643.33,870.89 L644.12,870.80 L644.91,870.71 L645.69,870.62 L646.48,870.52 L647.27,870.42 L648.06,870.32 L648.85,870.22 L649.64,870.11 L650.43,870.00 L651.22,869.88 L652.01,869.77 L652.79,869.65 L653.58,869.52 L654.37,869.39 L655.16,869.26 L655.95,869.12 L656.74,868.99 L657.53,868.84 L658.32,868.69 L659.11,868.54 L659.90,868.38 L660.68,868.22 L661.47,868.06 L662.26,867.89 L663.05,867.71 L663.84,867.53 L664.63,867.34 L665.42,867.15 L666.21,866.95 L667.00,866.75 L667.79,866.54 L668.57,866.33 L669.36,866.10 L670.15,865.88 L670.94,865.64 L671.73,865.40 L672.52,865.15 L673.31,864.90 L674.10,864.63 L674.89,864.36 L675.68,864.08 L676.46,863.80 L677.25,863.50 L678.04,863.20 L678.83,862.89 L679.62,862.57 L680.41,862.23 L681.20,861.89 L681.99,861.54 L682.78,861.18 L683.56,860.81 L684.35,860.43 L685.14,860.04 L685.93,859.63 L686.72,859.22 L687.51,858.79 L688.30,858.35 L689.09,857.89 L689.88,857.43 L690.67,856.94 L691.45,856.45 L692.24,855.94 L693.03,855.42 L693.82,854.88 L694.61,854.32 L695.40,853.75 L696.19,853.16 L696.98,852.56 L697.77,851.94 L698.56,851.30 L699.34,850.64 L700.13,849.96 L700.92,849.26 L701.71,848.54 L702.50,847.80 L703.29,847.04 L704.08,846.26 L704.87,845.46 L705.66,844.63 L706.45,843.77 L707.23,842.90 L708.02,841.99 L708.81,841.06 L709.60,840.11 L710.39,839.12 L711.18,838.11 L711.97,837.07 L712.76,835.99 L713.55,834.89 L714.33,833.75 L715.12,832.59 L715.91,831.38 L716.70,830.15 L717.49,828.87 L718.28,827.56 L719.07,826.22 L719.86,824.83 L720.65,823.41 L721.44,821.94 L722.22,820.43 L723.01,818.88 L723.80,817.29 L724.59,815.65 L725.38,813.96 L726.17,812.22 L726.96,810.44 L727.75,808.61 L728.54,806.72 L729.33,804.79 L730.11,802.80 L730.90,800.75 L731.69,798.65 L732.48,796.50 L733.27,794.28 L734.06,792.01 L734.85,789.68 L735.64,787.28 L736.43,784.83 L737.22,782.32 L738.00,779.74 L738.79,777.10 L739.58,774.40 L740.37,771.64 L741.16,768.81 L741.95,765.93 L742.74,762.98 L743.53,759.98 L744.32,756.92 L745.10,753.80 L745.89,750.64 L746.68,747.42 L747.47,744.16 L748.26,740.86 L749.05,737.52 L749.84,734.16 L750.63,730.77 L751.42,727.36 L752.21,723.94 L752.99,720.52 L753.78,717.10 L754.57,713.70 L755.36,710.33 L756.15,706.99 L756.94,703.69 L757.73,700.45 L758.52,697.27 L759.31,694.16 L760.10,691.13 L760.88,688.20 L761.67,685.36 L762.46,682.63 L763.25,680.00 L764.04,677.50 L764.83,675.11 L765.62,672.84 L766.41,670.69 L767.20,668.67 L767.98,666.77 L768.77,664.99 L769.56,663.33 L770.35,661.78 L771.14,660.34 L771.93,659.01 L772.72,657.79 L773.51,656.65 L774.30,655.61 L775.09,654.66 L775.87,653.78 L776.66,652.98 L777.45,652.26 L778.24,651.59 L779.03,650.98 L779.82,650.43 L780.61,649.94 L781.40,649.48 L782.19,649.07 L782.98,648.70 L783.76,648.36 L784.55,648.06 L785.34,647.79 L786.13,647.54 L786.92,647.31 L787.71,647.11 L788.50,646.93 L789.29,646.77 L790.08,646.62 L790.87,646.49 L791.65,646.37 L792.44,646.26 L793.23,646.16 L794.02,646.08 L794.81,646.00 L795.60,645.93 L796.39,645.86 L797.18,645.81 L797.97,645.75 L798.75,645.71 L799.54,645.67 L800.33,645.63 L801.12,645.60 L801.91,645.57 L802.70,645.54 L803.49,645.52 L804.28,645.49 L805.07,645.47 L805.86,645.46 L806.64,645.44 L807.43,645.43 L808.22,645.41 L809.01,645.40 L809.80,645.39 L810.59,645.38 L811.38,645.38 L812.17,645.37 L812.96,645.36 L813.75,645.35 L814.53,645.35 L815.32,645.34 L816.11,645.34 L816.90,645.34 L817.69,645.33 L818.48,645.33 L819.27,645.33 L820.06,645.32 L820.85,645.32 L821.64,645.32 L822.42,645.32 L823.21,645.32 L824.00,645.32 L824.79,645.31 L825.58,645.31 L826.37,645.31 L827.16,645.31 L827.95,645.31 L828.74,645.31 L829.52,645.31 L830.31,645.31 L831.10,645.31 L831.89,645.31 L832.68,645.31 L833.47,645.31 L834.26,645.31 L835.05,645.31 L835.84,645.30 L836.63,645.30 L837.41,645.30 L838.20,645.30 L838.99,645.30 L839.78,645.30 L840.57,645.30 L841.36,645.30 L842.15,645.30 L842.94,645.30 L843.73,645.30 L844.52,645.30 L845.30,645.30 L846.09,645.30 L846.88,645.30 L847.67,645.30 L848.46,645.30 L849.25,645.30 L850.04,645.30 L850.83,645.30 L851.62,645.30 L852.41,645.30 L853.19,645.30 L853.98,645.30 L854.77,645.30 L855.56,645.30 L856.35,645.30 L857.14,645.30 L857.93,645.30 L858.72,645.30 L859.51,645.30 L860.29,645.30 L861.08,645.30 L861.87,645.30 L862.66,645.30 L863.45,645.30 L864.24,645.30 L865.03,645.30 L865.82,645.30 L866.61,645.30 L867.40,645.30 L868.18,645.30 L868.97,645.30 L869.76,645.30 L870.55,645.30 L871.34,645.30 L872.13,645.30 L872.92,645.30 L873.71,645.30 L874.50,645.30 L875.29,645.30 L876.07,645.30 L876.86,645.30 L877.65,645.30 L878.44,645.30 L879.23,645.30 L880.02,645.30 L880.81,645.30 L881.60,645.30 L882.39,645.30 L883.17,645.30 L883.96,645.30 L884.75,645.30 L885.54,645.30 L886.33,645.30 L887.12,645.30 L887.91,645.30 L888.70,645.30 L889.49,645.30 L890.28,645.30 L891.06,645.30 L891.85,645.30 L892.64,645.30 L893.43,645.30 L894.22,645.30 L895.01,645.30 L895.80,645.30 L896.59,645.30 L897.38,645.30 L898.17,645.30 L898.95,645.30 L899.74,645.30 L900.53,645.30 L901.32,645.30 L902.11,645.30 L902.90,645.30 L903.69,645.30 L904.48,645.30 L905.27,645.30 L906.06,645.30 L906.84,645.30 L907.63,645.30 L908.42,645.30 L909.21,645.30 L910.00,645.30" stroke="#FF6000" stroke-width="2.5" fill="none" stroke-linejoin="round" stroke-linecap="round"/>
<circle cx="594.90" cy="881.9" r="5.8" fill="#FF6000"/>
<circle cx="626.62" cy="882.9" r="5.8" fill="#FF6000"/>
<circle cx="658.34" cy="881.9" r="5.8" fill="#FF6000"/>
<circle cx="690.06" cy="863.9" r="5.8" fill="#FF6000"/>
<circle cx="721.78" cy="801.0" r="5.8" fill="#FF6000"/>
<circle cx="753.50" cy="723.8" r="5.8" fill="#FF6000"/>
<circle cx="785.22" cy="677.4" r="5.8" fill="#FF6000"/>
<circle cx="816.94" cy="636.5" r="5.8" fill="#FF6000"/>
<circle cx="848.66" cy="648.0" r="5.8" fill="#FF6000"/>
<circle cx="880.38" cy="630.9" r="5.8" fill="#FF6000"/>
<circle cx="912.10" cy="636.6" r="5.8" fill="#FF6000"/>
</svg>
</body></html>
